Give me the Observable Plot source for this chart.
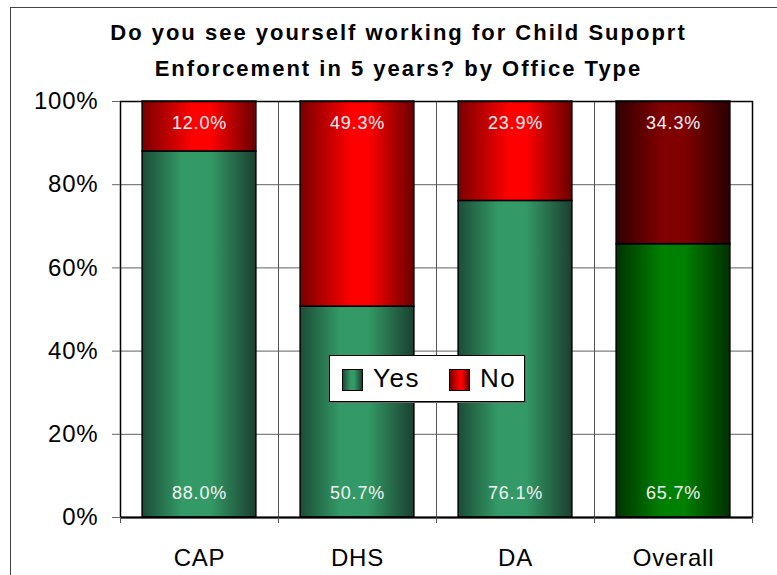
<!DOCTYPE html>
<html><head><meta charset="utf-8">
<script src="https://cdn.jsdelivr.net/npm/d3@7"></script>
<script src="https://cdn.jsdelivr.net/npm/@observablehq/plot@0.6"></script>
<style>
body{margin:0;background:#fff;}
#wrap{position:relative;width:777px;height:575px;overflow:hidden;font-family:"Liberation Sans",Arial,sans-serif;color:#000;}
#border{position:absolute;left:10px;top:7px;width:900px;height:700px;border-left:1.5px solid #444;border-top:1.5px solid #444;}
#title{position:absolute;left:0;width:797px;top:15px;text-align:center;font-weight:bold;font-size:22px;line-height:36px;letter-spacing:2px;}
#chart{position:absolute;left:0;top:0;}
#legend{position:absolute;left:329px;top:355px;width:194px;height:45px;border:1px solid #000;background:#fff;box-shadow:1px 1px 0 #666;}
.sw{position:absolute;top:13px;width:19px;height:20px;border:1px solid #000;}
.lt{position:absolute;top:5px;font-size:26px;line-height:34px;letter-spacing:1.5px;}
</style></head>
<body>
<div id="wrap">
<div id="border"></div>
<div id="chart"></div>
<div id="title">Do you see yourself working for Child Supoprt<br>Enforcement in 5 years? by Office Type</div>
<div id="legend"></div>
</div>
<script>
const categories = ["CAP", "DHS", "DA", "Overall"];
const yesValues = [88.0, 50.7, 76.1, 65.7];
const noValues = [12.0, 49.3, 23.9, 34.3];
const yTicks = [0, 20, 40, 60, 80, 100];
const seriesNames = ["Yes", "No"];

const rows = categories.flatMap((c, i) => [
  {cat: c, i, answer: "Yes", y1: 0, y2: yesValues[i], v: yesValues[i]},
  {cat: c, i, answer: "No", y1: yesValues[i], y2: 100, v: noValues[i]}
]);
const fillFor = d => d.cat === "Overall"
  ? (d.answer === "Yes" ? "url(#gOY)" : "url(#gON)")
  : (d.answer === "Yes" ? "url(#gY)" : "url(#gN)");

const font = "'Liberation Sans', Arial, sans-serif";
const svg = Plot.plot({
  width: 777, height: 575,
  marginLeft: 120, marginRight: 25, marginTop: 101, marginBottom: 58,
  x: {domain: [0, categories.length], axis: null},
  y: {domain: [0, 100], axis: null},
  style: {fontFamily: font, background: "transparent", overflow: "visible", color: "#000"},
  marks: [
    Plot.ruleY(yTicks.filter(t => t > 0 && t < 100), {stroke: "#808080", strokeWidth: 1.2}),
    Plot.ruleX(d3.range(1, categories.length), {stroke: "#555", strokeWidth: 1}),
    Plot.rectY(rows, {x1: d => d.i + 0.14, x2: d => d.i + 0.86, y1: "y1", y2: "y2", fill: fillFor, stroke: "#000", strokeWidth: 1.5}),
    Plot.frame({stroke: "#000", strokeWidth: 1.5}),
    Plot.ruleY([0], {stroke: "#000", strokeWidth: 2}),
    Plot.axisY({ticks: yTicks, tickFormat: d => d + "%", tickSize: 8, tickPadding: 14, fontSize: 24, label: null, stroke: "#666", fill: "#000"}),
    Plot.axisX({ticks: d3.range(0, categories.length + 1), tickFormat: () => "", tickSize: 6, label: null, stroke: "#555"}),
    Plot.axisX({ticks: categories.map((c, i) => i + 0.5), tickFormat: d => categories[Math.floor(d)], tickSize: 0, tickPadding: 31, fontSize: 24, label: null, fill: "#000"}),
    Plot.text(rows.filter(d => d.answer === "Yes"), {x: d => d.i + 0.5, y: "y1", dy: -24, text: d => d.v.toFixed(1) + "%", fill: "#f2f2f2", fontSize: 18}),
    Plot.text(rows.filter(d => d.answer === "No"), {x: d => d.i + 0.5, y: "y2", dy: 22, text: d => d.v.toFixed(1) + "%", fill: "#f2f2f2", fontSize: 18})
  ]
});

const ns = "http://www.w3.org/2000/svg";
const defs = document.createElementNS(ns, "defs");
defs.innerHTML = `
<linearGradient id="gY" x1="0" x2="1" y1="0" y2="0">
 <stop offset="0" stop-color="#1b4d37"/><stop offset="0.35" stop-color="#339966"/><stop offset="0.6" stop-color="#339966"/><stop offset="1" stop-color="#1a4030"/>
</linearGradient>
<linearGradient id="gN" x1="0" x2="1" y1="0" y2="0">
 <stop offset="0" stop-color="#7a0000"/><stop offset="0.45" stop-color="#ff0000"/><stop offset="0.6" stop-color="#ff0000"/><stop offset="1" stop-color="#6a0000"/>
</linearGradient>
<linearGradient id="gOY" x1="0" x2="1" y1="0" y2="0">
 <stop offset="0" stop-color="#003300"/><stop offset="0.4" stop-color="#008000"/><stop offset="0.6" stop-color="#008000"/><stop offset="1" stop-color="#003000"/>
</linearGradient>
<linearGradient id="gON" x1="0" x2="1" y1="0" y2="0">
 <stop offset="0" stop-color="#300000"/><stop offset="0.4" stop-color="#800000"/><stop offset="0.6" stop-color="#800000"/><stop offset="1" stop-color="#2a0000"/>
</linearGradient>`;
svg.insertBefore(defs, svg.firstChild);
svg.querySelectorAll("text").forEach(t => t.style.letterSpacing = "0.8px");
document.getElementById("chart").appendChild(svg);

const legend = document.getElementById("legend");
const swatchCss = {
  Yes: "linear-gradient(to right,#1b4d37,#339966 40%,#339966 60%,#1a4030)",
  No: "linear-gradient(to right,#7a0000,#ff0000 50%,#ff0000 60%,#6a0000)"
};
const pos = {Yes: [12, 43], No: [119, 150]};
seriesNames.forEach(n => {
  const s = document.createElement("div");
  s.className = "sw"; s.style.left = pos[n][0] + "px"; s.style.background = swatchCss[n];
  legend.appendChild(s);
  const t = document.createElement("div");
  t.className = "lt"; t.style.left = pos[n][1] + "px"; t.textContent = n;
  legend.appendChild(t);
});
</script>
</body></html>
